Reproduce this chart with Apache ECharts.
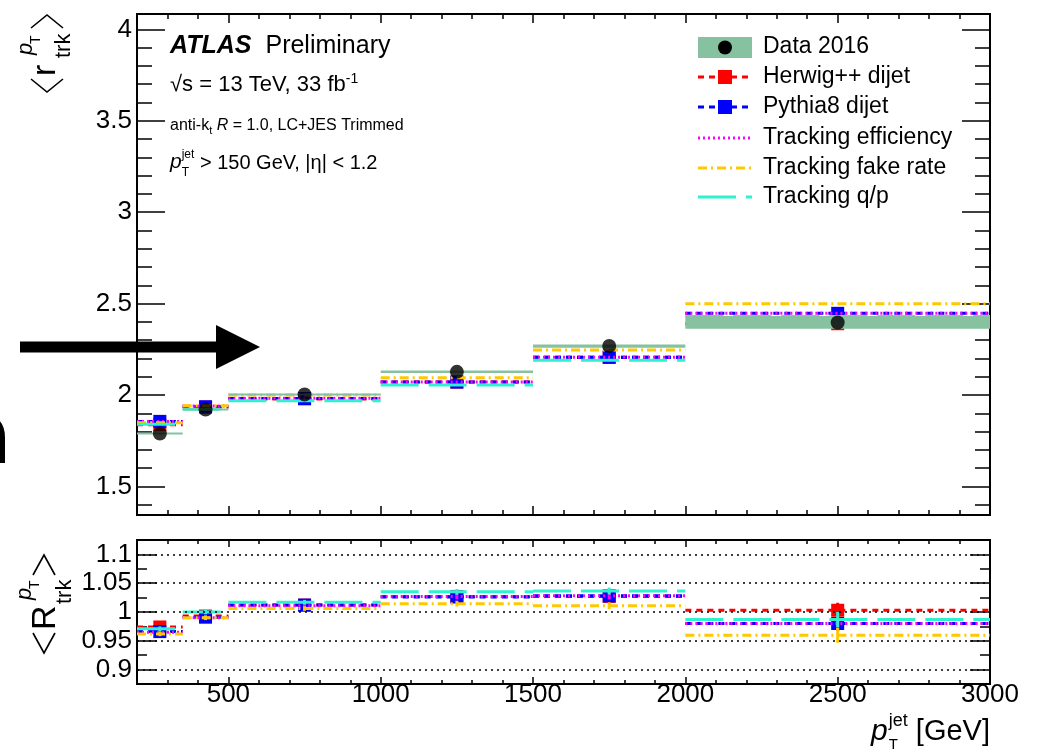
<!DOCTYPE html>
<html>
<head>
<meta charset="utf-8">
<script src="https://cdn.jsdelivr.net/npm/echarts@6/dist/echarts.min.js"></script>
<style>
  html, body { margin: 0; padding: 0; background: #fff; }
  #chart { width: 1043px; height: 752px; }
</style>
</head>
<body>
<div id="chart"></div>
<script>
// ---- binning (GeV) ----
const binEdges   = [200, 350, 500, 1000, 1500, 2000, 3000];
const binCenters = [275, 425, 750, 1250, 1750, 2500];

// ---- upper panel: <r_trk^pT> ----
const data2016     = [1.790, 1.921, 2.003, 2.127, 2.268, 2.397];
const data2016Syst = [0.004, 0.004, 0.005, 0.007, 0.009, 0.035];
const herwig       = [1.838, 1.934, 1.979, 2.071, 2.208, 2.390];
const pythia       = [1.856, 1.936, 1.981, 2.071, 2.206, 2.447];
const trkEff       = [1.855, 1.940, 1.983, 2.072, 2.207, 2.447];
const trkFake      = [1.848, 1.941, 2.000, 2.095, 2.246, 2.500];
const trkQoverP    = [1.841, 1.923, 1.969, 2.055, 2.190, 2.430];

// ---- lower panel: <R_trk^pT> ----
const herwigRatio    = [0.974, 0.993, 1.012, 1.027, 1.027, 1.003];
const pythiaRatio    = [0.966, 0.991, 1.012, 1.026, 1.028, 0.980];
const trkEffRatio    = [0.965, 0.990, 1.011, 1.027, 1.028, 0.980];
const trkFakeRatio   = [0.962, 0.990, 1.006, 1.0145, 1.011, 0.9595];
const trkQoverPRatio = [0.971, 1.000, 1.017, 1.035, 1.0365, 0.987];
const ratioStatErr   = [0.004, 0.004, 0.004, 0.005, 0.006, 0.013];

// ---- tick labels ----
const xTickLabels     = [500, 1000, 1500, 2000, 2500, 3000];
const yTopTickLabels  = [1.5, 2, 2.5, 3, 3.5, 4];
const yLowTickLabels  = [0.9, 0.95, 1, 1.05, 1.1];
const ratioGridLines  = [0.9, 0.95, 1, 1.05, 1.1];

// ---- legend entries ----
const legendNames = ['Data 2016', 'Herwig++ dijet', 'Pythia8 dijet',
                     'Tracking efficiency', 'Tracking fake rate', 'Tracking q/p'];

const FONT = '"Liberation Sans", Arial, Helvetica, sans-serif';
const C = {
  band: '#86c1a0', herwig: '#ff0000', pythia: '#0000ff',
  eff: '#ff00ff', fake: '#ffc800', qop: '#2ef2cf'
};
const STY = {
  herwig: { color: C.herwig, dash: [6, 5] },
  pythia: { color: C.pythia, dash: [6, 5] },
  eff:    { color: C.eff,    dash: [2, 3] },
  fake:   { color: C.fake,   dash: [9, 4, 2, 4] },
  qop:    { color: C.qop,    dash: [38, 10] }
};

// axis ranges
const X_MIN = 200, X_MAX = 3000;
const YT_MIN = 1.344, YT_MAX = 4.084;
const YL_MIN = 0.875, YL_MAX = 1.125;

// minor tick positions
function minors(from, to, step, majors) {
  const out = [];
  for (let v = from; v <= to + 1e-9; v += step) {
    const r = Math.round(v * 1000) / 1000;
    if (!majors.some(m => Math.abs(m - r) < 1e-6)) out.push(r);
  }
  return out;
}
const xMinor   = minors(300, 2900, 100, xTickLabels);
const yTopMin  = minors(1.4, 4.0, 0.1, yTopTickLabels);
const yLowMin  = [0.925, 0.975, 1.025, 1.075];

function fmt(v) { return String(Math.round(v * 1000) / 1000); }

function axis(grid, pos, min, max, ticks, len, label) {
  return {
    type: 'value', gridIndex: grid, position: pos, min: min, max: max,
    axisLine: { show: false }, splitLine: { show: false },
    axisTick: { show: true, inside: true, length: len, customValues: ticks,
                lineStyle: { color: '#000', width: 1.5 } },
    axisLabel: label ? Object.assign({ show: true, customValues: ticks, color: '#000',
                fontFamily: FONT, fontSize: 26, formatter: fmt }, label) : { show: false }
  };
}

const xAxes = [
  axis(0, 'bottom', X_MIN, X_MAX, xTickLabels, 9, null),
  axis(0, 'bottom', X_MIN, X_MAX, xMinor, 5, null),
  axis(0, 'top',    X_MIN, X_MAX, xTickLabels, 9, null),
  axis(0, 'top',    X_MIN, X_MAX, xMinor, 5, null),
  axis(1, 'bottom', X_MIN, X_MAX, xTickLabels, 7, { margin: -2 }),
  axis(1, 'bottom', X_MIN, X_MAX, xMinor, 4, null),
  axis(1, 'top',    X_MIN, X_MAX, xTickLabels, 7, null),
  axis(1, 'top',    X_MIN, X_MAX, xMinor, 4, null)
];
const yAxes = [
  axis(0, 'left',  YT_MIN, YT_MAX, yTopTickLabels, 28, { margin: 5 }),
  axis(0, 'left',  YT_MIN, YT_MAX, yTopMin, 15, null),
  axis(0, 'right', YT_MIN, YT_MAX, yTopTickLabels, 28, null),
  axis(0, 'right', YT_MIN, YT_MAX, yTopMin, 15, null),
  axis(1, 'left',  YL_MIN, YL_MAX, yLowTickLabels, 20, { margin: 5 }),
  axis(1, 'left',  YL_MIN, YL_MAX, yLowMin, 10, null),
  axis(1, 'right', YL_MIN, YL_MAX, yLowTickLabels, 20, null),
  axis(1, 'right', YL_MIN, YL_MAX, yLowMin, 10, null)
];

// horizontal bin segments with optional marker and error bar
function histSeries(name, panel, vals, sty, opt) {
  opt = opt || {};
  const data = vals.map((v, i) => [binEdges[i], binEdges[i + 1], binCenters[i], v,
                                   opt.err ? opt.err[i] : 0]);
  return {
    type: 'custom', name: name, xAxisIndex: panel * 4, yAxisIndex: panel * 4,
    data: data, z: 2, silent: true,
    encode: { x: [0, 1, 2], y: 3 },
    renderItem: function (params, api) {
      const lo = api.value(0), hi = api.value(1), c = api.value(2);
      const v = api.value(3), e = api.value(4);
      const p1 = api.coord([lo, v]), p2 = api.coord([hi, v]);
      const children = [{
        type: 'line',
        shape: { x1: p1[0], y1: p1[1], x2: p2[0], y2: p2[1] },
        style: { stroke: sty.color, lineWidth: 3, lineDash: sty.dash, fill: null }
      }];
      if (opt.marker) {
        const m = api.coord([c, v]);
        const s = opt.marker;
        children.push({ type: 'rect', shape: { x: m[0] - s / 2, y: m[1] - s / 2, width: s, height: s },
                        style: { fill: sty.color } });
      }
      if (e > 0) {
        const a = api.coord([c, v - e]), b = api.coord([c, v + e]);
        children.push({ type: 'line', shape: { x1: a[0], y1: a[1], x2: b[0], y2: b[1] },
                        style: { stroke: sty.color, lineWidth: 3 } });
      }
      return { type: 'group', children: children };
    }
  };
}

const bandSeries = {
  type: 'custom', name: 'Data 2016 band', xAxisIndex: 0, yAxisIndex: 0, z: 3, silent: true,
  data: data2016.map((v, i) => [binEdges[i], binEdges[i + 1], v, data2016Syst[i]]),
  encode: { x: [0, 1], y: 2 },
  renderItem: function (params, api) {
    const a = api.coord([api.value(0), api.value(2) + api.value(3)]);
    const b = api.coord([api.value(1), api.value(2) - api.value(3)]);
    const h = Math.max(b[1] - a[1], 2);
    const mid = (a[1] + b[1]) / 2;
    return { type: 'rect', shape: { x: a[0], y: mid - h / 2, width: b[0] - a[0], height: h },
             style: { fill: C.band } };
  }
};

const dataSeries = {
  type: 'scatter', name: 'Data 2016', xAxisIndex: 0, yAxisIndex: 0, z: 5, silent: true,
  symbol: 'circle', symbolSize: 14, itemStyle: { color: '#000' },
  data: binCenters.map((c, i) => [c, data2016[i]])
};

const gridLineSeries = {
  type: 'line', name: 'ratio grid', xAxisIndex: 4, yAxisIndex: 4, data: [], z: 1, silent: true,
  markLine: {
    symbol: 'none', silent: true, label: { show: false },
    lineStyle: { color: '#000', type: [2, 4], width: 1.5 },
    data: ratioGridLines.map(v => ({ yAxis: v }))
  }
};

const series = [
  histSeries('Herwig++ dijet', 0, herwig, STY.herwig, { marker: 13 }),
  histSeries('Pythia8 dijet', 0, pythia, STY.pythia, { marker: 13 }),
  histSeries('Tracking efficiency', 0, trkEff, STY.eff),
  histSeries('Tracking fake rate', 0, trkFake, STY.fake),
  histSeries('Tracking q/p', 0, trkQoverP, STY.qop),
  bandSeries,
  dataSeries,
  gridLineSeries,
  histSeries('Herwig++ dijet ratio', 1, herwigRatio, STY.herwig, { marker: 13, err: ratioStatErr }),
  histSeries('Pythia8 dijet ratio', 1, pythiaRatio, STY.pythia, { marker: 13, err: ratioStatErr }),
  histSeries('Tracking efficiency ratio', 1, trkEffRatio, STY.eff, { err: ratioStatErr }),
  histSeries('Tracking fake rate ratio', 1, trkFakeRatio, STY.fake, { err: ratioStatErr }),
  histSeries('Tracking q/p ratio', 1, trkQoverPRatio, STY.qop, { err: ratioStatErr })
];

// ---- text helpers (sub/superscripts laid out with measured widths) ----
const measureCtx = document.createElement('canvas').getContext('2d');
function fontStr(p) {
  return (p.style || 'normal') + ' ' + (p.weight || 'normal') + ' ' + p.size + 'px ' + FONT;
}
function textEl(x, baseline, p) {
  return {
    type: 'text', x: x, y: baseline - 0.35 * p.size, z: 20,
    style: { text: p.t, fontFamily: FONT, fontSize: p.size, fontStyle: p.style || 'normal',
             fontWeight: p.weight || 'normal', fill: '#000',
             align: 'left', verticalAlign: 'middle', textAlign: 'left', textVerticalAlign: 'middle' }
  };
}
// parts: {t,size,style,weight,dy,gap,stack} ; stack:true -> does not advance (next part shares x)
function run(x, base, parts) {
  let cx = x, els = [], stackW = 0;
  parts.forEach(p => {
    cx += p.gap || 0;
    els.push(textEl(cx, base + (p.dy || 0), p));
    measureCtx.font = fontStr(p);
    const w = measureCtx.measureText(p.t).width;
    if (p.stack) { stackW = Math.max(stackW, w); }
    else { cx += Math.max(w, stackW); stackW = 0; }
  });
  return { els: els, width: cx - x };
}

const graphics = [];
function add(r) { r.els.forEach(e => graphics.push(e)); }

// labels inside the upper panel
add(run(170, 55, [
  { t: 'ATLAS', size: 25, style: 'italic', weight: 'bold' },
  { t: 'Preliminary', size: 25, gap: 14 }
]));
add(run(170, 93, [
  { t: '\u221As = 13 TeV, 33 fb', size: 22 },
  { t: '-1', size: 14, dy: -9 }
]));
add(run(170, 131, [
  { t: 'anti-k', size: 16 },
  { t: 't', size: 11, dy: 4 },
  { t: ' ', size: 16 },
  { t: 'R', size: 16, style: 'italic' },
  { t: ' = 1.0, LC+JES Trimmed', size: 16 }
]));
add(run(170, 170, [
  { t: 'p', size: 21, style: 'italic' },
  { t: 'jet', size: 12, dy: -11, stack: true },
  { t: 'T', size: 12, dy: 7 },
  { t: ' > 150 GeV, |\u03B7| < 1.2', size: 20 }
]));

// x-axis title, right aligned to the frame
(function () {
  const parts = [
    { t: 'p', size: 30, style: 'italic' },
    { t: 'jet', size: 18, dy: -15, stack: true, gap: 1 },
    { t: 'T', size: 15, dy: 8 },
    { t: ' [GeV]', size: 29 }
  ];
  const w = run(0, 0, parts).width;
  add(run(990 - w, 742, parts));
})();

// rotated y-axis titles: < r_trk^pT > and < R_trk^pT >
function bracket(lx0, lx1, ly0, ly1, open) {
  const tip = open ? lx0 : lx1, end = open ? lx1 : lx0;
  return { type: 'polyline', z: 20,
           shape: { points: [[end, ly0], [tip, (ly0 + ly1) / 2], [end, ly1]] },
           style: { stroke: '#000', lineWidth: 1.6, fill: null } };
}
function yTitle(ox, oy, letter, o) {
  return {
    type: 'group', x: ox, y: oy, rotation: Math.PI / 2, z: 20,
    children: [
      bracket(o.b1[0], o.b1[1], o.bly[0], o.bly[1], true),
      textEl(o.main, 0, { t: letter, size: o.size }),
      textEl(o.sub, o.subDy, { t: 'trk', size: 22 }),
      textEl(o.sup, o.supDy, { t: 'p', size: 22, style: 'italic' }),
      textEl(o.sup + 11, o.supDy + 7, { t: 'T', size: 14 }),
      bracket(o.b2[0], o.b2[1], o.bly[0], o.bly[1], false)
    ]
  };
}
graphics.push(yTitle(58, 94, 'r', {
  size: 34, main: 18, sub: 36, subDy: 14, sup: 39, supDy: -24,
  b1: [2, 15], b2: [66, 79], bly: [-27, 5]
}));
graphics.push(yTitle(58, 655, 'R', {
  size: 34, main: 25, sub: 51, subDy: 15, sup: 55, supDy: -25,
  b1: [2, 22], b2: [80, 100], bly: [-25, -3]
}));

// legend
const LX0 = 698, LX1 = 752, LTX = 763;
const legendRows = [47, 77, 107, 138, 168, 197];
graphics.push({ type: 'rect', z: 20, shape: { x: LX0, y: 37, width: LX1 - LX0, height: 21 },
                style: { fill: C.band } });
graphics.push({ type: 'circle', z: 21, shape: { cx: (LX0 + LX1) / 2, cy: 47.5, r: 7 },
                style: { fill: '#000' } });
[STY.herwig, STY.pythia, STY.eff, STY.fake, STY.qop].forEach((s, i) => {
  const y = legendRows[i + 1];
  graphics.push({ type: 'line', z: 20, shape: { x1: LX0, y1: y, x2: LX1, y2: y },
                  style: { stroke: s.color, lineWidth: 3, lineDash: s.dash } });
  if (i < 2) {
    graphics.push({ type: 'rect', z: 21,
                    shape: { x: (LX0 + LX1) / 2 - 7, y: y - 7, width: 14, height: 14 },
                    style: { fill: s.color } });
  }
});
legendNames.forEach((n, i) => {
  graphics.push(textEl(LTX, legendRows[i] + 0.35 * 23, { t: n, size: 23 }));
});

// arrow pointing into the plot
graphics.push({ type: 'rect', z: 30, shape: { x: 20, y: 341.5, width: 198, height: 11 },
                style: { fill: '#000' } });
graphics.push({ type: 'polygon', z: 30, shape: { points: [[216, 325], [260, 347], [216, 369]] },
                style: { fill: '#000' } });
// partial letter at the left edge
graphics.push({ type: 'line', z: 30, shape: { x1: 2.5, y1: 463, x2: 2.5, y2: 437 },
                style: { stroke: '#000', lineWidth: 5 } });
graphics.push({ type: 'bezierCurve', z: 30,
                shape: { x1: 2.5, y1: 438, cpx1: 2.5, cpy1: 424, cpx2: -4, cpy2: 418.5, x2: -14, y2: 418.5 },
                style: { stroke: '#000', lineWidth: 5, fill: null } });

const option = {
  animation: false,
  backgroundColor: '#fff',
  textStyle: { fontFamily: FONT },
  grid: [
    { left: 137, top: 14, width: 853, height: 501, show: true, borderColor: '#000',
      borderWidth: 2, backgroundColor: 'transparent', containLabel: false },
    { left: 137, top: 540, width: 853, height: 144, show: true, borderColor: '#000',
      borderWidth: 2, backgroundColor: 'transparent', containLabel: false }
  ],
  xAxis: xAxes,
  yAxis: yAxes,
  series: series,
  graphic: { elements: graphics }
};

const chart = echarts.init(document.getElementById('chart'), null, { renderer: 'canvas' });
chart.setOption(option);
</script>
</body>
</html>
